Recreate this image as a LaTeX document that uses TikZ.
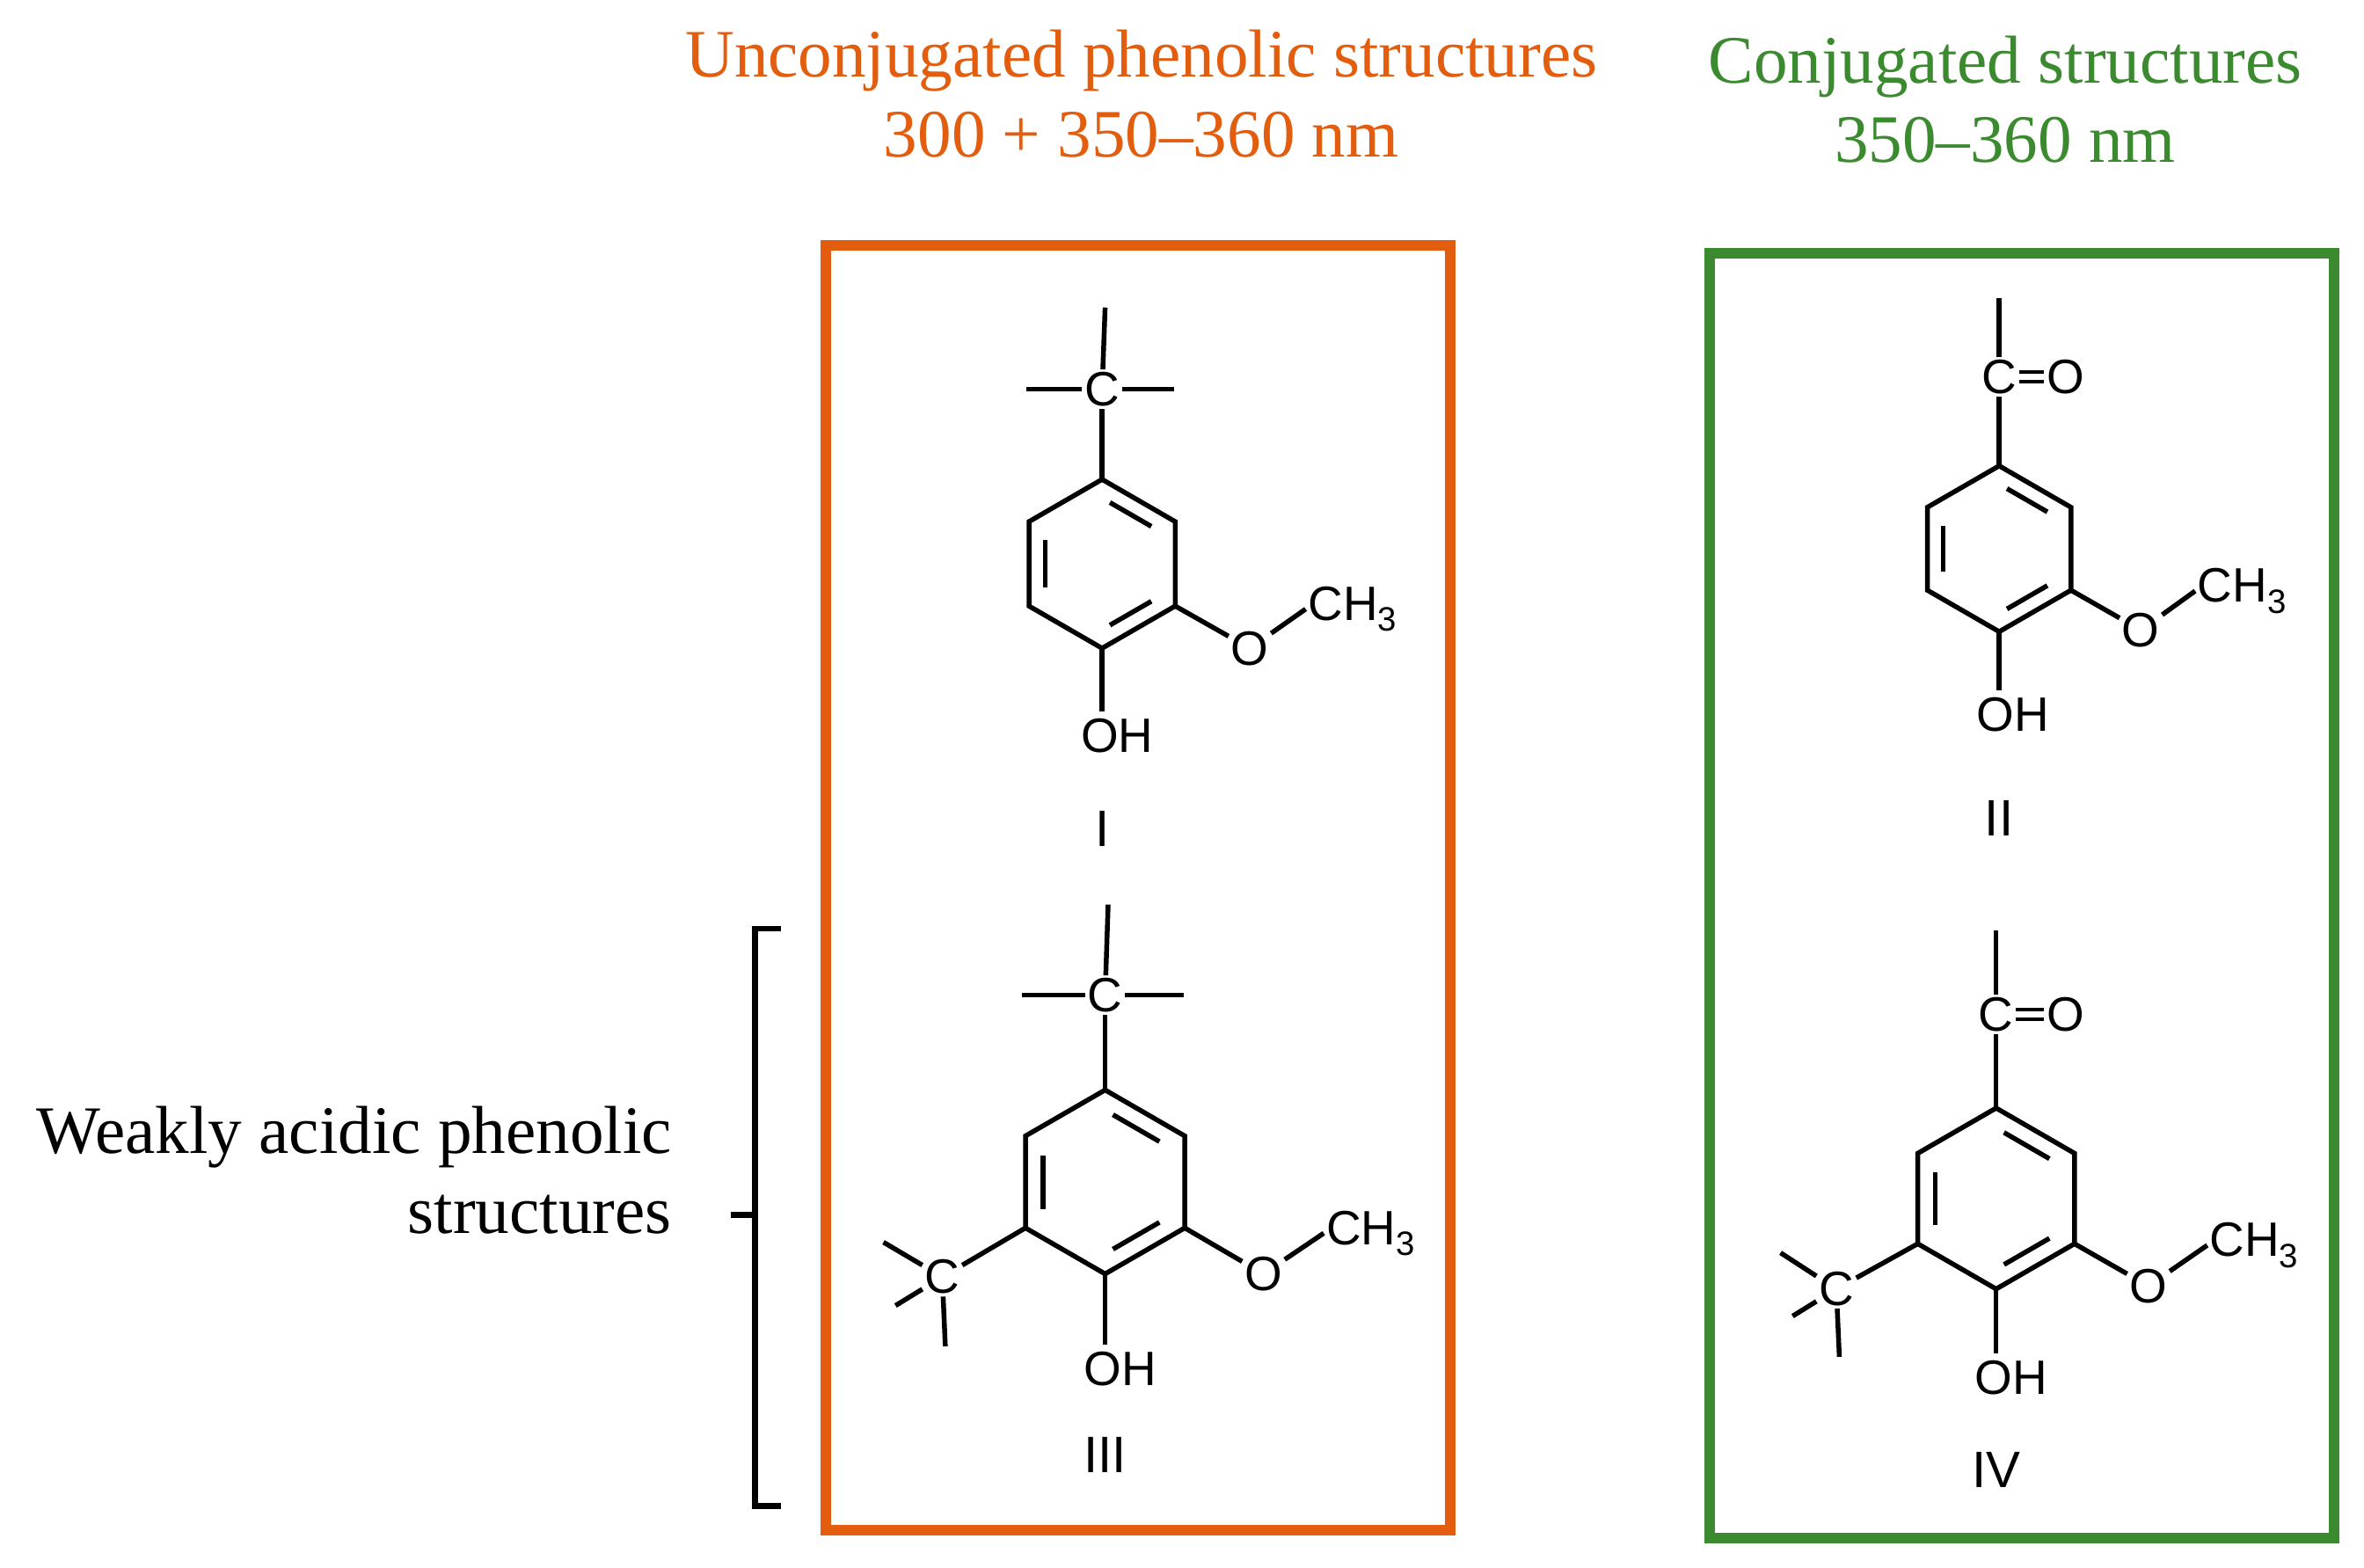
\documentclass[tikz,border=0pt]{standalone}
\usepackage{fontspec}
\setmainfont{Liberation Serif}
\newfontfamily\chem{Liberation Sans}
\usetikzlibrary{calc}
\definecolor{orn}{HTML}{E35D0E}
\definecolor{grn}{HTML}{3B8A2F}
\newcommand\myring[3]{% center, radius, prefix
  \foreach \i/\a in {1/-90,2/-30,3/30,4/90,5/150,6/-150}{\coordinate (#3\i) at ($(#1)+(\a:#2)$);}
  \draw[bond] (#31)--(#32)--(#33)--(#34)--(#35)--(#36)--cycle;
  \foreach \p/\q in {5/6,1/2,3/4}{\draw[bond,shorten <=6pt,shorten >=6pt] ($(#1)!0.78!(#3\p)$)--($(#1)!0.78!(#3\q)$);}
}
\begin{document}
\begin{tikzpicture}[x=1pt,y=-1pt,
  bond/.style={line width=3.2pt},
  atom/.style={font=\chem\fontsize{32}{32}\selectfont,inner sep=1.5pt},
  lab/.style={font=\chem\fontsize{34}{34}\selectfont},
  ttl/.style={font=\fontsize{45}{53}\selectfont,align=center}]
\useasboundingbox (0,0) rectangle (1568,1040);
% titles
\node[ttl,text=orn] (t1) at (757,62) {Unconjugated phenolic structures\\300 + 350--360 nm};
\node[ttl,text=grn] (t2) at (1330,66) {Conjugated structures\\350--360 nm};
\node[ttl,align=right,anchor=east] (wk) at (449,776) {Weakly acidic phenolic\\structures};
% boxes
\node[draw=orn,line width=7pt,minimum width=414pt,minimum height=852pt,inner sep=0pt] (bx1) at (755,589) {};
\node[draw=grn,line width=7pt,minimum width=414pt,minimum height=852pt,inner sep=0pt] (bx2) at (1341,594) {};
% bracket
\coordinate (b1) at (518,616); \coordinate (b2) at (501,616);
\coordinate (b3) at (501,999); \coordinate (b4) at (518,999);
\coordinate (bm) at (501,806); \coordinate (bl) at (485,806);
\draw[line width=4pt] (b1)--(b2)--(b3)--(b4); \draw[line width=4pt] (bm)--(bl);
% ---------- I
\myring{731,374}{56}{a}
\node[atom] (aC) at (731,258) {C};
\coordinate (aCl) at (681,258); \coordinate (aCr) at (779,258); \coordinate (aCu) at (733,204);
\draw[bond] (a1)--(aC); \draw[bond] (aC)--(aCl); \draw[bond] (aC)--(aCr); \draw[bond] (aC)--(aCu);
\node[atom] (aOH) at (741,488) {OH}; \draw[bond] (a4)--(731,472);
\node[atom] (aO) at (829,430) {O}; \draw[bond] (a3)--(aO);
\node[atom,anchor=west] (aMe) at (866,404) {CH\textsubscript{3}}; \draw[bond] (aO)--(aMe.west);
\node[lab] (n1) at (731,550) {I};
% ---------- III
\myring{733,784}{61}{c}
\node[atom] (cC) at (733,660) {C};
\coordinate (cCl) at (678,660); \coordinate (cCr) at (785,660); \coordinate (cCu) at (735,600);
\draw[bond] (c1)--(cC); \draw[bond] (cC)--(cCl); \draw[bond] (cC)--(cCr); \draw[bond] (cC)--(cCu);
\node[atom] (cC2) at (625,847) {C};
\coordinate (cq1) at (586,824); \coordinate (cq2) at (594,866); \coordinate (cq3) at (627,893);
\draw[bond] (c5)--(cC2); \draw[bond] (cC2)--(cq1); \draw[bond] (cC2)--(cq2); \draw[bond] (cC2)--(cq3);
\node[atom] (cOH) at (743,908) {OH}; \draw[bond] (c4)--(733,892);
\node[atom] (cO) at (838,845) {O}; \draw[bond] (c3)--(cO);
\node[atom,anchor=west] (cMe) at (878,818) {CH\textsubscript{3}}; \draw[bond] (cO)--(cMe.west);
\node[lab] (n3) at (733,965) {III};
% ---------- II
\myring{1326,364}{55}{b}
\node[atom] (bC) at (1326,250) {C};
\node[atom] (bOx) at (1370,250) {O};
\draw[bond] (b1)--(bC); \draw[bond] (bC)--(1326,198);
\draw[bond,double,double distance=4pt,line width=2.4pt] (bC)--(bOx);
\node[atom] (bOH) at (1335,474) {OH}; \draw[bond] (b4)--(1326,458);
\node[atom] (bO) at (1420,418) {O}; \draw[bond] (b3)--(bO);
\node[atom,anchor=west] (bMe) at (1456,392) {CH\textsubscript{3}}; \draw[bond] (bO)--(bMe.west);
\node[lab] (n2) at (1326,543) {II};
% ---------- IV
\myring{1324,795}{60}{d}
\node[atom] (dC) at (1324,673) {C};
\node[atom] (dOx) at (1370,673) {O};
\draw[bond] (d1)--(dC); \draw[bond] (dC)--(1324,617);
\draw[bond,double,double distance=4pt,line width=2.4pt] (dC)--(dOx);
\node[atom] (dC2) at (1218,855) {C};
\coordinate (dq1) at (1181,831); \coordinate (dq2) at (1189,873); \coordinate (dq3) at (1220,900);
\draw[bond] (d5)--(dC2); \draw[bond] (dC2)--(dq1); \draw[bond] (dC2)--(dq2); \draw[bond] (dC2)--(dq3);
\node[atom] (dOH) at (1334,914) {OH}; \draw[bond] (d4)--(1324,898);
\node[atom] (dO) at (1425,853) {O}; \draw[bond] (d3)--(dO);
\node[atom,anchor=west] (dMe) at (1464,826) {CH\textsubscript{3}}; \draw[bond] (dO)--(dMe.west);
\node[lab] (n4) at (1324,975) {IV};
\end{tikzpicture}
\end{document}
